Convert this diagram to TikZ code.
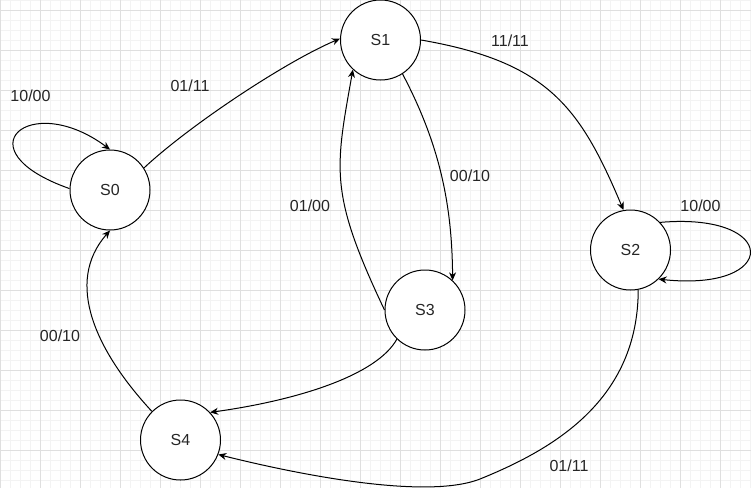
\documentclass[tikz,border=0pt]{standalone}
\usepackage{fontspec}
\setmainfont{Liberation Sans}
\usetikzlibrary{arrows.meta}
\definecolor{gridminor}{HTML}{F3F3F3}
\definecolor{gridmajor}{HTML}{DFDFDF}
\definecolor{txt}{HTML}{262626}
\begin{document}
\begin{tikzpicture}[x=1pt,y=-1pt,
  state/.style={circle,draw,line width=1pt,minimum size=80pt,inner sep=0pt,fill=white,text=txt,font=\fontsize{16}{18}\selectfont},
  edge/.style={line width=1pt,-{Stealth[length=8pt,width=7pt,inset=2.5pt]}},
  lbl/.style={font=\fontsize{16}{18}\selectfont,inner sep=0pt,text=txt},
  minorline/.style={draw=gridminor,line width=0.8pt},
  majorline/.style={draw=gridmajor,line width=0.8pt}]
\fill[white] (0,0) rectangle (751,488);
\useasboundingbox (0,0) rectangle (751,488);
% grid
\foreach \x in {10,20,...,750} \draw[minorline] (\x,0) -- (\x,488);
\foreach \y in {0,10,...,480} \draw[minorline] (0,\y) -- (751,\y);
\foreach \x in {0,40,...,720} \draw[majorline] (\x,0) -- (\x,488);
\foreach \y in {10,50,...,450} \draw[majorline] (0,\y) -- (751,\y);
% states
\node[state] (S0) at (110,190) {S0};
\node[state] (S1) at (380.5,40) {S1};
\node[state] (S2) at (630.5,250) {S2};
\node[state] (S3) at (425,310) {S3};
\node[state] (S4) at (180.5,440) {S4};
\coordinate (m24) at (480,479);
% edges
\draw[edge] (S0.178) .. controls (-40,150) and (30,90) .. (S0.90);
\draw[edge] (S0.33) .. controls (190,125) and (285,62) .. (S1.178);
\draw[edge] (S1.0) .. controls (548,62) and (580,107) .. (S2.100);
\draw[edge] (S1.-57) .. controls (440,145) and (452,205) .. (S3.47);
\draw[edge] (S3.180) .. controls (329,193) and (335,170) .. (S1.227);
\draw[edge] (S3.226) .. controls (377,375) and (299,400) .. (S4.43);
\draw[edge] (S2.281) .. controls (638,400) and (554,449) .. (m24) .. controls (424,501) and (288,472) .. (S4.-21);
\draw[edge] (S4.135) .. controls (96,351) and (64,282.5) .. (S0.-90);
\draw[edge] (S2.43) .. controls (780,212) and (780,292) .. (S2.-46);
% labels
\node[lbl] (l00) at (30.5,96) {10/00};
\node[lbl] (l01) at (190,86) {01/11};
\node[lbl] (l12) at (510,41) {11/11};
\node[lbl] (l13) at (470,176) {00/10};
\node[lbl] (l31) at (310,206) {01/00};
\node[lbl] (l22) at (700.5,206) {10/00};
\node[lbl] (l24) at (569,466) {01/11};
\node[lbl] (l40) at (60,336) {00/10};
\end{tikzpicture}
\end{document}
